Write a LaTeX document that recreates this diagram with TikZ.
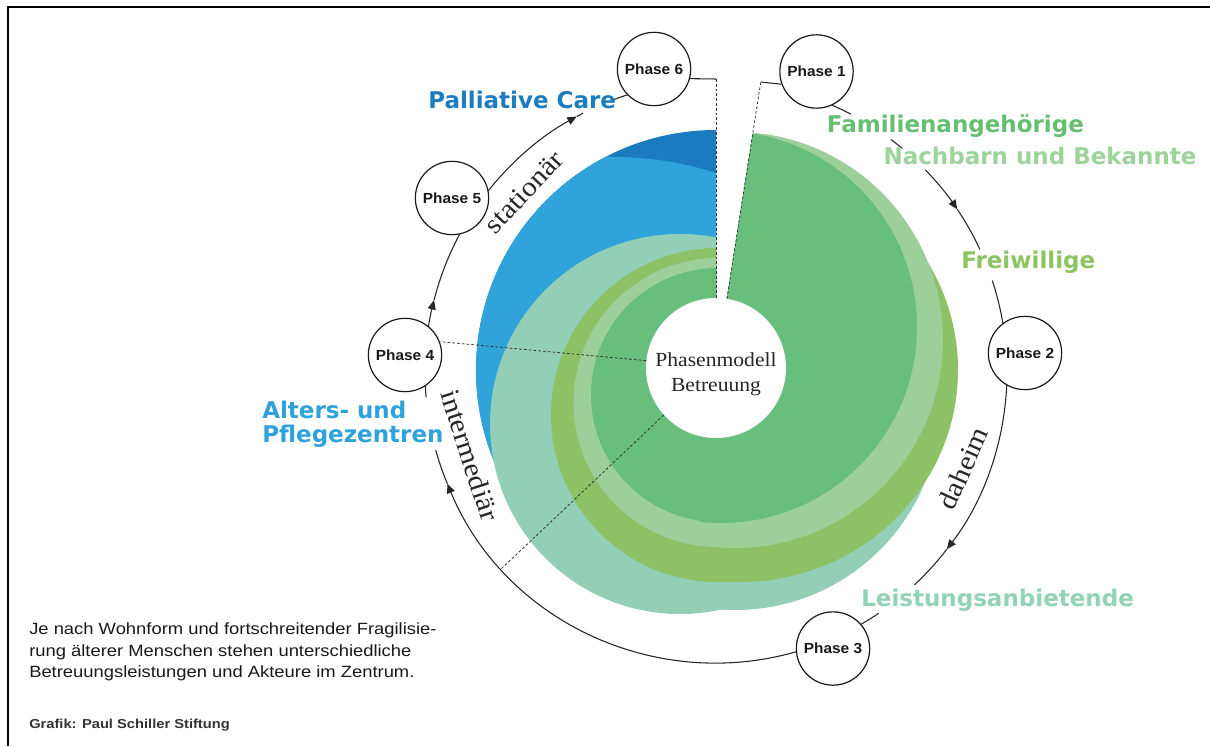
\documentclass[tikz,border=0pt]{standalone}
\usepackage{fontspec}
\setmainfont{Liberation Serif}
\newfontfamily\labfont{DejaVu Sans}
\newfontfamily\phfont{Liberation Sans}[FakeStretch=1.05]
\newfontfamily\txtfont{Liberation Sans}[FakeStretch=1.13]
\newfontfamily\serfont{Liberation Serif}[FakeStretch=1.08]
\usetikzlibrary{arrows.meta}
\definecolor{cG}{HTML}{68BF7B}
\definecolor{cLG}{HTML}{9CCF9A}
\definecolor{cO}{HTML}{8CC265}
\definecolor{cT}{HTML}{92CFB6}
\definecolor{cB}{HTML}{31A3DB}
\definecolor{cDB}{HTML}{1A7BBF}
\definecolor{tPal}{HTML}{1B7CC1}
\definecolor{tFam}{HTML}{66BE72}
\definecolor{tNach}{HTML}{9CD49C}
\definecolor{tFrei}{HTML}{8CC45F}
\definecolor{tLei}{HTML}{92D3B8}
\definecolor{tAlt}{HTML}{30A2DB}
\begin{document}
\begin{tikzpicture}[x=0.75pt,y=0.75pt,
  lab/.style={font=\labfont\bfseries\fontsize{17.25}{18.5}\selectfont, inner sep=0pt, anchor=base west},
  phase/.style={circle, draw=black!90, line width=0.9pt, fill=white, minimum size=55pt, inner sep=0pt,
    font=\phfont\bfseries\fontsize{11}{13}\selectfont, text=black!90},
  serlab/.style={font=\serfont\fontsize{20.5}{24}\selectfont, text=black!85, inner sep=0pt},
  corestyle/.style={circle, fill=white, minimum size=105pt, inner sep=0pt},
  coretext/.style={align=center, inner sep=0pt, font=\serfont\fontsize{15}{18.75}\selectfont, text=black!85},
  arcline/.style={line width=0.8pt, black!85},
  arrowtip/.style={-{Triangle[length=7pt,width=6pt]}},
  dashline/.style={dash pattern=on 2pt off 1.6pt, line width=0.6pt, black!80},
  bodytext/.style={font=\txtfont\fontsize{12.2}{16.25}\selectfont, text=black!90, inner sep=0pt, anchor=base west},
  leftside/.style={insert path={(716,126) -- (716,-450) -- (740,-450) -- (740,-800) -- (-100,-800) -- (-100,126) -- cycle}},
  rightside/.style={insert path={(700,-800) -- (700,-450) -- (716,-450) -- (716,-368) -- (793.4,126) -- (1300,126) -- (1300,-800) -- cycle}}
]
\useasboundingbox (0,0) rectangle (1210,-746);
\fill[white] (0,0) rectangle (1210,-746);
\draw[line width=1.5pt] (7.5,-746) -- (7.5,-6.5) -- (1210,-6.5);

% blue (stationary) layers, left only
\begin{scope}
  \clip (716,126) -- (716,-800) -- (-100,-800) -- (-100,126) -- cycle;
  \fill[cDB] (716,-370) circle[radius=240];
  \begin{scope}
    \clip (611.5,-504) circle[radius=347.1];
    \fill[cB] (716,-370) circle[radius=240];
  \end{scope}
\end{scope}
% teal layer
\begin{scope}\clip[leftside];
  \fill[cT] (680,-424) circle[radius=190];
\end{scope}
\begin{scope}\clip[rightside];
  \fill[cT] (735,-405) circle[radius=205];
\end{scope}
% olive layer
\begin{scope}\clip[leftside];
  \fill[cO] (718,-415) circle[radius=167];
\end{scope}
\begin{scope}\clip[rightside];
  \fill[cO] (740,-370) ellipse[x radius=218, y radius=212];
\end{scope}
% light green layer
\begin{scope}\clip[leftside];
  \fill[cLG] (718,-402.5) circle[radius=144.5];
\end{scope}
\begin{scope}\clip[rightside];
  \fill[cLG] (735,-340) circle[radius=208];
\end{scope}
% green layer
\begin{scope}\clip[leftside];
  \fill[cG] (718,-395) circle[radius=127];
\end{scope}
\begin{scope}\clip[rightside];
  \fill[cG] (721,-327) circle[radius=196];
\end{scope}

\node[corestyle] (core) at (716,-368) {};
\node[coretext] (coretxt) at (716,-374) {Phasenmodell\\Betreuung};

% cycle arc
\coordinate (AO) at (716,-372);
\foreach \s/\e in {72/62.4, 53/50.2, 34/24.9, 18.3/8, -37.5/-47, -56/-62, 202.6/195.6, 185/181, 165.7/150, 118.6/117.2, 110.6/106}
  \draw[arcline] (AO) ++(\s:291) arc[start angle=\s, end angle=\e, radius=291];
\foreach \s/\e in {44/34, -1/-37.5, 288/202.6, 176/165.7, 144/118.6}
  \draw[arcline, arrowtip] (AO) ++(\s:291) arc[start angle=\s, end angle=\e, radius=291];

% phases
\node[phase] (P1) at (816.5,-71.5) {Phase 1};
\node[phase] (P2) at (1025,-353) {Phase 2};
\node[phase] (P3) at (833,-648.5) {Phase 3};
\node[phase] (P4) at (405,-355) {Phase 4};
\node[phase] (P5) at (452,-198) {Phase 5};
\node[phase] (P6) at (654,-69) {Phase 6};

% dashed guide lines
\coordinate (t6) at (716,-79);
\coordinate (t1) at (760.8,-82);
\coordinate (d2) at ([shift={(222.5:291)}]AO);
\draw[dashline] (core.90) -- (t6);
\draw[arcline] (t6) -- (P6.-15);
\draw[dashline] (core.81.1) -- (t1);
\draw[arcline] (t1) -- (P1.200);
\draw[dashline] (core.174) -- (P4.21);
\draw[dashline] (core.222.5) -- (d2);

% actor labels
\node[lab, text=tPal] (lpal) at (428,-108.3) {Palliative Care};
\node[lab, text=tFam] (lfam) at (826.7,-132.7) {Familienangehörige};
\node[lab, text=tNach] (lnach) at (883.3,-164.3) {Nachbarn und Bekannte};
\node[lab, text=tFrei] (lfrei) at (961,-268.3) {Freiwillige};
\node[lab, text=tLei] (llei) at (861,-606) {Leistungsanbietende};
\node[lab, text=tAlt] (lalt1) at (262,-418) {Alters- und};
\node[lab, text=tAlt] (lalt2) at (262,-442) {Pflegezentren};

% setting labels
\node[serlab, rotate=47] (lst) at (524,-192) {stationär};
\node[serlab, rotate=-72] (lint) at (470,-455) {intermediär};
\node[serlab, rotate=66] (ldah) at (963,-468) {daheim};

% caption
\node[bodytext] (c1) at (29,-634.3) {Je nach Wohnform und fortschreitender Fragilisie-};
\node[bodytext] (c2) at (29,-656) {rung älterer Menschen stehen unterschiedliche};
\node[bodytext] (c3) at (29,-677.7) {Betreuungsleistungen und Akteure im Zentrum.};
\node[font=\txtfont\bfseries\fontsize{9.75}{12}\selectfont, text=black!80, inner sep=0pt, anchor=base west] (cred) at (29,-728) {Grafik: Paul Schiller Stiftung};
\end{tikzpicture}
\end{document}
